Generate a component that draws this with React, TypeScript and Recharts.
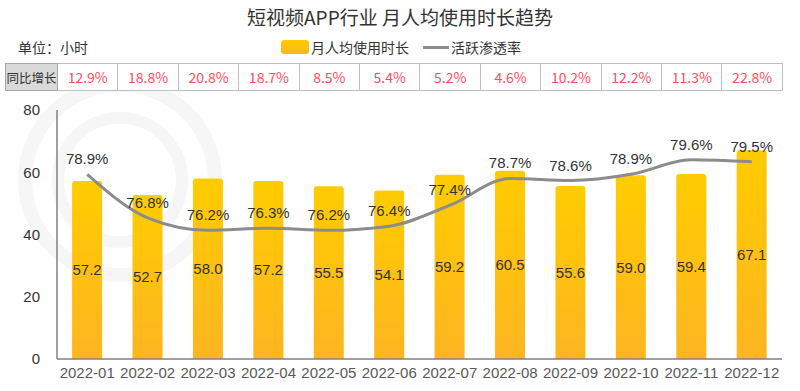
import React from 'react';
import {
  ComposedChart,
  Bar,
  Line,
  XAxis,
  YAxis,
  LabelList,
  Customized,
} from 'recharts';

const months = [
  '2022-01', '2022-02', '2022-03', '2022-04', '2022-05', '2022-06',
  '2022-07', '2022-08', '2022-09', '2022-10', '2022-11', '2022-12',
];
const hours = [57.2, 52.7, 58.0, 57.2, 55.5, 54.1, 59.2, 60.5, 55.6, 59.0, 59.4, 67.1];
const penetration = [78.9, 76.8, 76.2, 76.3, 76.2, 76.4, 77.4, 78.7, 78.6, 78.9, 79.6, 79.5];
const yoyGrowth = ['12.9%', '18.8%', '20.8%', '18.7%', '8.5%', '5.4%', '5.2%', '4.6%', '10.2%', '12.2%', '11.3%', '22.8%'];
const leftTicks = [0, 20, 40, 60, 80];

const data = months.map((m, i) => ({ month: m, hours: hours[i], rate: penetration[i] }));

const cjk = '"Noto Sans CJK SC", "Noto Sans", sans-serif';
const num = '"Liberation Sans", Arial, sans-serif';

const PLOT_LEFT = 57;
const PLOT_RIGHT = 782;

// faint watermark rings behind the plot
const Watermark = () => (
  <g>
    <circle cx={120} cy={180} r={95} fill="none" stroke="#f6f6f6" strokeWidth={14} />
    <circle cx={120} cy={180} r={62} fill="none" stroke="#f6f6f6" strokeWidth={12} />
  </g>
);

export default function App() {
  const cellW = (PLOT_RIGHT - PLOT_LEFT) / months.length;
  return (
    <div style={{ position: 'fixed', left: 0, top: 0, width: 800, height: 391, background: '#fff', overflow: 'hidden' }}>
      <div style={{ position: 'absolute', top: 0, left: 0 }}>
        <ComposedChart
          width={800}
          height={391}
          data={data}
          margin={{ top: 110, right: 800 - PLOT_RIGHT, left: 0, bottom: 0 }}
          barCategoryGap="25%"
        >
          <defs>
            <linearGradient id="barGrad" x1="0" y1="0" x2="0" y2="1">
              <stop offset="0%" stopColor="#ffcc00" />
              <stop offset="100%" stopColor="#fdb521" />
            </linearGradient>
          </defs>
          <Customized component={Watermark} />
          <XAxis
            dataKey="month"
            height={32}
            tickLine={false}
            axisLine={{ stroke: '#808080', strokeWidth: 1.5 }}
            tick={{ fill: '#595959', fontSize: 15, fontFamily: num }}
            interval={0}
          />
          <YAxis
            yAxisId="left"
            width={PLOT_LEFT}
            domain={[0, 80]}
            ticks={leftTicks}
            tickLine={false}
            tickMargin={11}
            axisLine={{ stroke: '#808080', strokeWidth: 1.5 }}
            tick={{ fill: '#333', fontSize: 15, fontFamily: num }}
          />
          <YAxis yAxisId="right" orientation="right" hide domain={[70, 82]} />
          <Bar yAxisId="left" dataKey="hours" fill="url(#barGrad)" radius={[3, 3, 0, 0]} isAnimationActive={false}>
            <LabelList dataKey="hours" position="center" formatter={(v: number) => v.toFixed(1)} fill="#333" fontSize={15} fontFamily={num} />
          </Bar>
          <Line
            yAxisId="right"
            type="monotone"
            dataKey="rate"
            stroke="#8c8c8c"
            strokeWidth={3}
            dot={false}
            isAnimationActive={false}
          >
            <LabelList dataKey="rate" position="top" offset={10} formatter={(v: number) => v.toFixed(1) + '%'} fill="#333" fontSize={15} fontFamily={num} />
          </Line>
        </ComposedChart>
      </div>

      {/* Title */}
      <div style={{ position: 'absolute', top: 3, left: 0, width: 800, textAlign: 'center', fontFamily: cjk, fontSize: 19, color: '#333' }}>
        短视频APP行业 月人均使用时长趋势
      </div>
      <div style={{ position: 'absolute', top: 37, left: 18, fontFamily: cjk, fontSize: 14, color: '#333' }}>
        单位：小时
      </div>

      {/* Legend */}
      <div style={{ position: 'absolute', top: 37, left: 281, display: 'flex', alignItems: 'center', fontFamily: cjk, fontSize: 14, color: '#333' }}>
        <span style={{ display: 'inline-block', width: 28, height: 14, borderRadius: 3, background: 'linear-gradient(#ffcc00, #fdb521)', marginRight: 2 }} />
        <span>月人均使用时长</span>
        <span style={{ display: 'inline-block', width: 26, height: 3, background: '#8c8c8c', marginLeft: 14, marginRight: 2 }} />
        <span>活跃渗透率</span>
      </div>

      {/* YoY table */}
      <table style={{ position: 'absolute', top: 63, left: 5, borderCollapse: 'collapse', tableLayout: 'fixed', background: '#fff' }}>
        <tbody>
          <tr style={{ height: 27 }}>
            <td style={{ width: 51, padding: 0, border: '1px solid #a6a6a6', background: '#d9d9d9', fontFamily: cjk, fontSize: 12.5, color: '#333', textAlign: 'center', whiteSpace: 'nowrap', overflow: 'visible' }}>
              同比增长
            </td>
            {yoyGrowth.map((g, i) => (
              <td key={i} style={{ width: cellW - 1, padding: 0, border: '1px solid #bfbfbf', fontFamily: cjk, fontSize: 14, color: '#ff4d5e', textAlign: 'center' }}>
                {g}
              </td>
            ))}
          </tr>
        </tbody>
      </table>
    </div>
  );
}
